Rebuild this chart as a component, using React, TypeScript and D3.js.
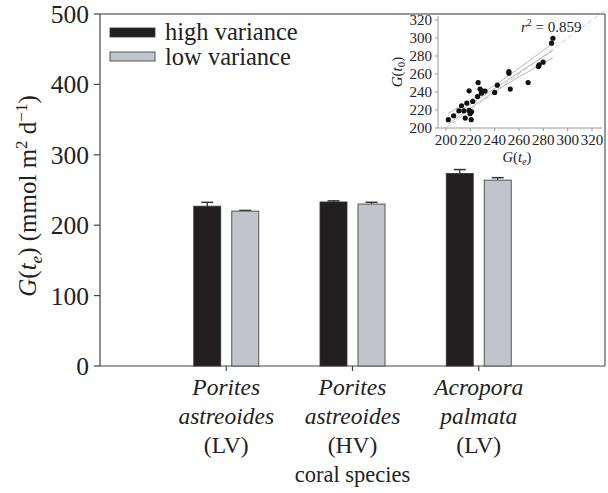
import React from "react";
import * as d3 from "d3";

const categoryGenus = ["Porites", "Porites", "Acropora"];
const categorySpecies = ["astreoides", "astreoides", "palmata"];
const categoryTag = ["(LV)", "(HV)", "(LV)"];
const seriesNames = ["high variance", "low variance"];
const highVariance = [227, 233, 273.5];
const highVarianceErr = [5.5, 1.5, 5.5];
const lowVariance = [220, 230, 264];
const lowVarianceErr = [1, 2.5, 3.5];
const yTicks = [0, 100, 200, 300, 400, 500];

const insetTicks = [200, 220, 240, 260, 280, 300, 320];
const insetX = [201.9, 206.3, 210.6, 212.8, 214.7, 215.8, 217.1, 219, 219, 219.8, 220.7, 221, 222, 225.9, 226.4, 228, 229.1, 230, 232.1, 240, 242.2, 251.7, 251.7, 252.8, 267.5, 275.9, 276.5, 279.8, 286.8, 287.9];
const insetY = [209.2, 213.6, 219.1, 224.7, 219.1, 211, 227.7, 219.5, 241.3, 215.9, 209.2, 218, 229.5, 235, 250.5, 243.2, 238.7, 241, 241, 239.5, 247.6, 262.7, 260.9, 243.2, 250.5, 268.3, 270.1, 273.1, 294.2, 299.7];
const rSquaredLabel = "0.859";

const FONT = "'Liberation Serif', 'Times New Roman', serif";
const BLACK = "#231f20";
const GREY = "#c1c5cb";

export default function App() {
  const W = 608, H = 493;
  const left = 100, right = 605, top = 14, bottom = 366;

  const x = d3.scalePoint<number>().domain([0, 1, 2]).range([left, right]).padding(1);
  const y = d3.scaleLinear().domain([0, 500]).range([bottom, top]);

  // inset scales
  const ix = d3.scaleLinear().domain([200, 320]).range([446, 592]);
  const iy = d3.scaleLinear().domain([200, 320]).range([128, 20]);

  // regression
  const n = insetX.length;
  const mx = d3.mean(insetX)!;
  const my = d3.mean(insetY)!;
  let sxx = 0, sxy = 0;
  insetX.forEach((v, i) => { sxx += (v - mx) ** 2; sxy += (v - mx) * (insetY[i] - my); });
  const b = sxy / sxx;
  const a = my - b * mx;
  let sse = 0;
  insetX.forEach((v, i) => { sse += (insetY[i] - (a + b * v)) ** 2; });
  const s = Math.sqrt(sse / (n - 2));
  const tval = 2.048;
  const xmin = d3.min(insetX)!, xmax = d3.max(insetX)!;
  const xs = d3.range(0, 41).map((k) => xmin + (xmax - xmin) * k / 40);
  const line = d3.line<[number, number]>().x((d) => ix(d[0])).y((d) => iy(d[1]));
  const fitPts = xs.map((v) => [v, a + b * v] as [number, number]);
  const upPts = xs.map((v) => [v, a + b * v + tval * s * Math.sqrt(1 / n + (v - mx) ** 2 / sxx)] as [number, number]);
  const loPts = xs.map((v) => [v, a + b * v - tval * s * Math.sqrt(1 / n + (v - mx) ** 2 / sxx)] as [number, number]);

  const barW = 27, gap = 5.5;
  const axisCol = "#444";

  return (
    <svg width={W} height={H} style={{ display: "block", position: "absolute", left: 0, top: 0 }} fontFamily={FONT}>
      <rect x={0} y={0} width={W} height={H} fill="#fff" />
      {/* frame */}
      <line x1={left} x2={right} y1={top} y2={top} stroke="#777" strokeWidth={1.5} />
      <line x1={right} x2={right} y1={top} y2={bottom} stroke="#777" strokeWidth={1.5} />
      <line x1={left} x2={left} y1={top} y2={bottom} stroke={axisCol} strokeWidth={1.2} />
      <line x1={left} x2={right} y1={bottom} y2={bottom} stroke={axisCol} strokeWidth={1.2} />
      {/* y ticks */}
      {yTicks.map((t) => (
        <g key={t}>
          <line x1={left - 6} x2={left} y1={y(t)} y2={y(t)} stroke={axisCol} strokeWidth={1.2} />
          <text x={left - 11} y={y(t)} dy="0.35em" textAnchor="end" fontSize={25.5} fill="#222">{t}</text>
        </g>
      ))}
      {/* y label */}
      <text transform={`translate(36,${(top + bottom) / 2 + 6}) rotate(-90)`} textAnchor="middle" fontSize={25} fill="#222">
        <tspan fontStyle="italic">G</tspan>
        <tspan>(</tspan>
        <tspan fontStyle="italic">t</tspan>
        <tspan fontStyle="italic" fontSize={17} dy={6}>e</tspan>
        <tspan dy={-6}>) (mmol m</tspan>
        <tspan fontSize={17} dy={-9}>2</tspan>
        <tspan dy={9}> d</tspan>
        <tspan fontSize={17} dy={-9}>−1</tspan>
        <tspan dy={9}>)</tspan>
      </text>
      {/* bars */}
      {[0, 1, 2].map((i) => {
        const cx = x(i)!;
        const hb = highVariance[i], lb = lowVariance[i];
        return (
          <g key={i}>
            <line x1={cx} x2={cx} y1={bottom} y2={bottom + 5} stroke={axisCol} strokeWidth={1.2} />
            <line x1={cx - gap - barW / 2} x2={cx - gap - barW / 2} y1={y(hb)} y2={y(hb + highVarianceErr[i])} stroke={BLACK} strokeWidth={1.2} />
            <line x1={cx - gap - barW / 2 - 6} x2={cx - gap - barW / 2 + 6} y1={y(hb + highVarianceErr[i])} y2={y(hb + highVarianceErr[i])} stroke="#333" strokeWidth={1.5} />
            <rect x={cx - gap - barW} y={y(hb)} width={barW} height={bottom - y(hb)} fill={BLACK} stroke="#333" strokeWidth={0.8} />
            <line x1={cx + gap + barW / 2} x2={cx + gap + barW / 2} y1={y(lb)} y2={y(lb + lowVarianceErr[i])} stroke="#333" strokeWidth={1.2} />
            <line x1={cx + gap + barW / 2 - 6} x2={cx + gap + barW / 2 + 6} y1={y(lb + lowVarianceErr[i])} y2={y(lb + lowVarianceErr[i])} stroke="#333" strokeWidth={1.5} />
            <rect x={cx + gap} y={y(lb)} width={barW} height={bottom - y(lb)} fill={GREY} stroke="#555" strokeWidth={1} />
            <text x={cx} y={395} textAnchor="middle" fontSize={23.5} fontStyle="italic" fill="#222">{categoryGenus[i]}</text>
            <text x={cx} y={424} textAnchor="middle" fontSize={23.5} fontStyle="italic" fill="#222">{categorySpecies[i]}</text>
            <text x={cx} y={453} textAnchor="middle" fontSize={23.5} fill="#222">{categoryTag[i]}</text>
          </g>
        );
      })}
      <text x={x(1)!} y={482} textAnchor="middle" fontSize={22.5} fill="#222">coral species</text>
      {/* legend */}
      <rect x={110} y={28} width={45} height={9} fill={BLACK} stroke="#333" strokeWidth={0.8} />
      <text x={165} y={40} fontSize={24.5} fill="#222">{seriesNames[0]}</text>
      <rect x={110} y={52} width={45} height={9} fill={GREY} stroke="#555" strokeWidth={1} />
      <text x={165} y={64.5} fontSize={24.5} fill="#222">{seriesNames[1]}</text>
      {/* inset */}
      <g>
        <line x1={438} x2={438} y1={16} y2={128} stroke="#999" strokeWidth={1} />
        <line x1={438} x2={602} y1={128} y2={128} stroke="#999" strokeWidth={1} />
        {insetTicks.map((t) => (
          <g key={"y" + t}>
            <line x1={435} x2={438} y1={iy(t)} y2={iy(t)} stroke="#999" />
            <text x={432} y={iy(t)} dy="0.35em" textAnchor="end" fontSize={15} fill="#222">{t}</text>
          </g>
        ))}
        {insetTicks.map((t) => (
          <g key={"x" + t}>
            <line x1={ix(t)} x2={ix(t)} y1={128} y2={131} stroke="#999" />
            <text x={ix(t)} y={145} textAnchor="middle" fontSize={15} fill="#222">{t}</text>
          </g>
        ))}
        <text x={517} y={162} textAnchor="middle" fontSize={14.5} fill="#222">
          <tspan fontStyle="italic">G</tspan><tspan>(</tspan><tspan fontStyle="italic">t</tspan>
          <tspan fontStyle="italic" fontSize={10.5} dy={3}>e</tspan><tspan dy={-3}>)</tspan>
        </text>
        <text transform={`translate(402,72) rotate(-90)`} textAnchor="middle" fontSize={15} fill="#222">
          <tspan fontStyle="italic">G</tspan><tspan>(</tspan><tspan fontStyle="italic">t</tspan>
          <tspan fontSize={11} dy={3}>0</tspan><tspan dy={-3}>)</tspan>
        </text>
        <line x1={ix(200)} y1={iy(200)} x2={ix(331)} y2={iy(331)} stroke="#bbb" strokeWidth={0.8} strokeDasharray="5,3" />
        <path d={line(fitPts)!} fill="none" stroke="#aaa" strokeWidth={0.9} />
        <path d={line(upPts)!} fill="none" stroke="#aaa" strokeWidth={0.9} />
        <path d={line(loPts)!} fill="none" stroke="#aaa" strokeWidth={0.9} />
        {insetX.map((v, i) => (
          <circle key={i} cx={ix(v)} cy={iy(insetY[i])} r={2.6} fill="#111" />
        ))}
        <text x={521} y={32} fontSize={15} fill="#222">
          <tspan fontStyle="italic">r</tspan><tspan fontSize={10} dy={-6}>2</tspan><tspan dy={6}> = {rSquaredLabel}</tspan>
        </text>
      </g>
    </svg>
  );
}
